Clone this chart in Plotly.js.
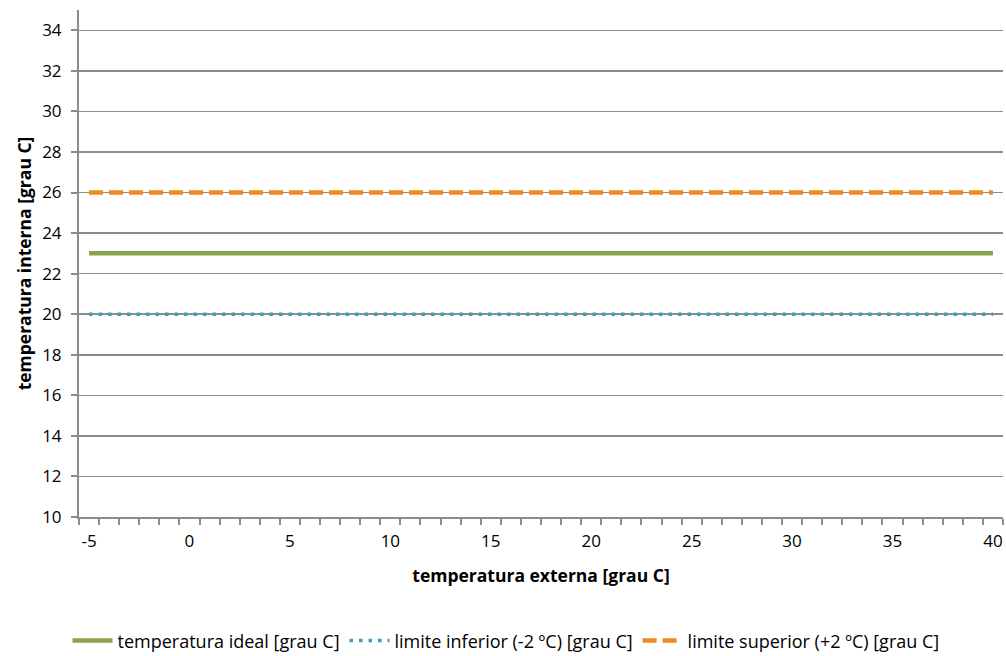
<!DOCTYPE html>
<html>
<head>
<meta charset="utf-8">
<script src="https://cdn.plot.ly/plotly-3.0.1.min.js"></script>
<style>html,body{margin:0;padding:0;background:#fff}#chart{width:1006px;height:656px}</style>
</head>
<body>
<div id="chart"></div>
<script>
const externa = [-5,-4,-3,-2,-1,0,1,2,3,4,5,6,7,8,9,10,11,12,13,14,15,16,17,18,19,20,21,22,23,24,25,26,27,28,29,30,31,32,33,34,35,36,37,38,39,40];
const ideal = [23,23,23,23,23,23,23,23,23,23,23,23,23,23,23,23,23,23,23,23,23,23,23,23,23,23,23,23,23,23,23,23,23,23,23,23,23,23,23,23,23,23,23,23,23,23];
const inferior = [20,20,20,20,20,20,20,20,20,20,20,20,20,20,20,20,20,20,20,20,20,20,20,20,20,20,20,20,20,20,20,20,20,20,20,20,20,20,20,20,20,20,20,20,20,20];
const superior = [26,26,26,26,26,26,26,26,26,26,26,26,26,26,26,26,26,26,26,26,26,26,26,26,26,26,26,26,26,26,26,26,26,26,26,26,26,26,26,26,26,26,26,26,26,26];
const xTicks = [-5,0,5,10,15,20,25,30,35,40];
const yTicks = [10,12,14,16,18,20,22,24,26,28,30,32,34];
const names = ['temperatura ideal [grau C]','limite inferior (-2 ºC) [grau C]','limite superior (+2 ºC) [grau C]'];

const font = '"Open Sans", sans-serif';
const traces = [
  {x: externa, y: ideal, name: names[0], mode:'lines', line:{color:'#8BA24E', width:4.5}},
  {x: externa, y: inferior, name: names[1], mode:'lines', line:{color:'#3E9DB4', width:3.5, dash:'3.5px,6px'}},
  {x: externa, y: superior, name: names[2], mode:'lines', line:{color:'#EF8A1C', width:4.5, dash:'14px,6px'}}
];
const layout = {
  width:1006, height:656,
  margin:{l:79, r:3, t:10, b:139, autoexpand:false},
  paper_bgcolor:'#fff', plot_bgcolor:'#fff',
  font:{family:font, size:17, color:'#000'},
  showlegend:true,
  legend:{orientation:'h', xref:'container', yref:'container', x:0.503, xanchor:'center', y:0.023, yanchor:'middle', font:{size:18}, traceorder:'normal', itemwidth:40},
  xaxis:{
    automargin:false,
    range:[-5.5,40.5], tickmode:'array', tickvals:xTicks, ticktext:xTicks.map(v=>String(v)),
    ticks:'', showgrid:false, zeroline:false, showline:true, linecolor:'#8C8C8C', linewidth:2,
    ticklabelstandoff:8,
    minor:{tickmode:'linear', tick0:-5.5, dtick:1, ticks:'outside', ticklen:6, tickcolor:'#8C8C8C', tickwidth:2, showgrid:false},
    title:{text:'<b>temperatura externa [grau C]</b>', font:{size:17.5}, standoff:18}
  },
  yaxis:{
    automargin:false,
    range:[10,35], tickmode:'array', tickvals:yTicks,
    ticks:'outside', ticklen:6, tickcolor:'#8C8C8C', tickwidth:2,
    showgrid:true, gridcolor:'#8C8C8C', gridwidth:1.5, zeroline:false,
    showline:true, linecolor:'#8C8C8C', linewidth:2,
    ticklabelstandoff:6,
    title:{text:'<b>temperatura interna [grau C]</b>', font:{size:17.5}, standoff:6}
  }
};
Plotly.newPlot('chart', traces, layout, {displayModeBar:false, staticPlot:true});
</script>
</body>
</html>
